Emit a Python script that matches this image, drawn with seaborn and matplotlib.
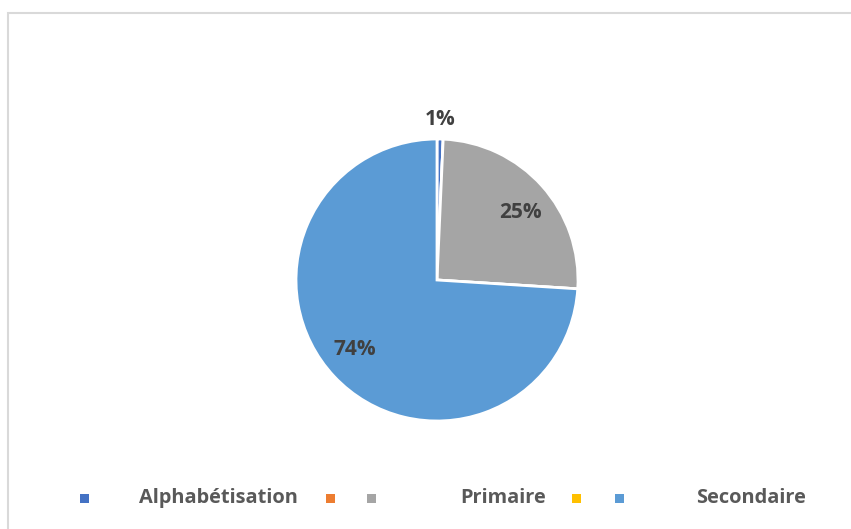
import numpy as np
import matplotlib
matplotlib.use("Agg")
import matplotlib.pyplot as plt
from matplotlib.patches import Rectangle
import seaborn as sns

categories = ["Alphabétisation", "", "Primaire", "", "Secondaire"]
values = [0.7, 0.0, 25.3, 0.0, 74.0]
colors = ["#4472C4", "#ED7D31", "#A5A5A5", "#FFC000", "#5B9BD5"]

sns.set_theme(style="white")
plt.rcParams["font.family"] = ["Open Sans", "DejaVu Sans"]

W, H = 851, 529
fig = plt.figure(figsize=(W / 100, H / 100), dpi=100)
fig.patch.set_facecolor("white")

# chart frame (clipped at right/bottom like the original screenshot)
fig.patches.append(Rectangle((8 / W, -0.05), 1.0, (H - 13) / H + 0.05,
                             transform=fig.transFigure, fill=False,
                             edgecolor="#d9d9d9", linewidth=1.5))

cx, cy, r = 437, H - 280, 141
ax = fig.add_axes([(cx - r) / W, (cy - r) / H, 2 * r / W, 2 * r / H])
wedges, _ = ax.pie(values, colors=colors, startangle=90, counterclock=False,
                   wedgeprops=dict(edgecolor="white", linewidth=2))
ax.set_xlim(-1, 1)
ax.set_ylim(-1, 1)
ax.set_aspect("equal")
ax.axis("off")

for w, v in zip(wedges, values):
    if v <= 0:
        continue
    # Excel places labels a touch clockwise of the wedge middle
    ang = np.deg2rad((w.theta1 + w.theta2) / 2 - 3)
    d = 1.14 if v < 3 else 0.76
    if v < 3:
        ang = np.deg2rad((w.theta1 + w.theta2) / 2)
    ax.text(d * np.cos(ang), d * np.sin(ang), f"{round(v)}%", ha="center", va="center",
            fontsize=15, fontweight="bold", color="#404040")

# legend, laid out like the Excel one
sq_x = [84, 330, 371, 576, 619]
txt_x = [218, None, 503, None, 751]
ly = H - 498
for c, lab, sx, tx in zip(colors, categories, sq_x, txt_x):
    fig.patches.append(Rectangle(((sx - 4.5) / W, (ly - 4.5) / H), 9 / W, 9 / H,
                                 transform=fig.transFigure, facecolor=c, edgecolor="none"))
    if lab:
        fig.text(tx / W, ly / H, lab, ha="center", va="center", fontsize=14.4,
                 fontweight="bold", color="#595959")

fig.savefig("out.png", dpi=100)
